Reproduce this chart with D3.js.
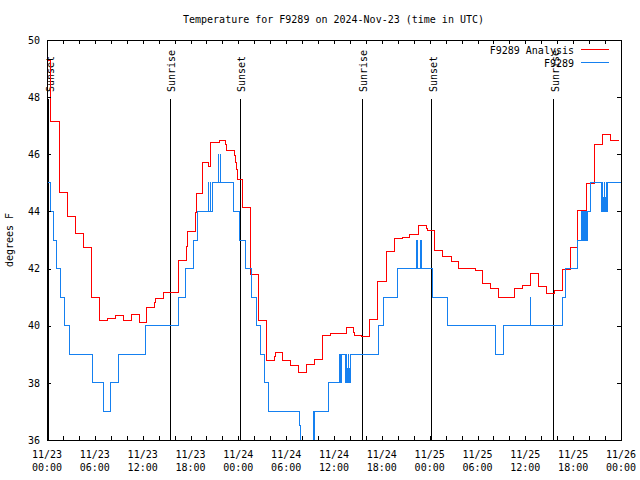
<!DOCTYPE html>
<html><head><meta charset="utf-8">
<script src="https://cdn.jsdelivr.net/npm/d3@7"></script>
<style>
body{margin:0;background:#fff}
svg{display:block}
text{font-family:"DejaVu Sans Mono","Liberation Mono",monospace;font-size:10px;fill:#000}
</style></head><body>
<svg id="c" width="640" height="480"></svg>
<script>
const title = "Temperature for F9289 on 2024-Nov-23 (time in UTC)";
const yLabel = "degrees F";
const seriesNames = ["F9289 Analysis", "F9289"];
const seriesColors = ["#ff0000", "#1580f0"];
const startUTC = Date.UTC(2024, 10, 23);
const spanHours = 72;
const yTicks = [36, 38, 40, 42, 44, 46, 48, 50];
// [hours since start, label]
const sunEvents = [[0.2, "Sunset"], [15.47, "Sunrise"], [24.22, "Sunset"], [39.53, "Sunrise"], [48.24, "Sunset"], [63.56, "Sunrise"]];
// step-after change points: [hours since start, degrees F]
const analysis = [
[0,49.3],[0.5,47.15],[1.55,44.67],[2.55,43.83],[3.55,43.22],[4.56,42.74],[5.6,40.99],[6.56,40.2],
[7.57,40.26],[8.57,40.36],[9.57,40.2],[10.58,40.4],[11.58,40.13],[12.5,40.63],[13.5,40.8],[13.58,40.96],
[14.6,41.1],[14.65,41.18],[16.45,41.72],[16.55,42.3],[17.52,42.77],[17.62,43.29],[18.6,43.96],[18.69,44.63],
[19.48,45.72],[20.24,45.57],[20.53,46.42],[21.62,46.47],[22.45,46.33],[22.52,46.15],[23.5,45.95],[23.6,45.72],
[23.72,45.47],[23.87,45.12],[24.54,44.14],[25.52,41.8],[26.52,40.19],[27.51,38.77],[28.5,38.92],[28.6,39.08],
[29.5,38.8],[30.5,38.61],[31.5,38.37],[32.5,38.65],[33.5,38.82],[34.5,39.65],[35.58,39.73],[37.55,39.95],
[38.5,39.78],[38.6,39.67],[39.5,39.63],[40.5,40.22],[41.5,41.54],[42.55,42.59],[43.55,43.04],[44.55,43.09],
[45.5,43.18],[46.55,43.51],[47.62,43.42],[47.75,43.35],[48.62,42.65],[49.63,42.44],[50.68,42.25],[51.64,42.02],
[53.69,41.95],[54.65,41.48],[55.69,41.31],[56.66,40.99],[58.62,41.31],[59.67,41.41],[60.63,41.83],[61.63,41.39],
[62.68,41.13],[63.6,41.23],[64.68,41.97],[65.62,42.74],[66.6,44.03],[67.65,44.98],[68.66,46.34],[69.62,46.69],
[70.67,46.48],[71.71,46.48]
];
const observed = [
[0,45.6],[0.08,45],[0.46,44],[0.85,43],[1.25,42],[1.74,41],[2.25,40],[2.87,39],[5.65,38],[7.07,37],[8.0,38],
[9.0,39],[12.4,40],[16.47,41],[17.43,42],[18.38,43],[18.85,44],
[20.3,45],[20.31,44],[20.5,45],[20.51,44],[20.72,45],
[21.5,46],[21.51,45],[21.74,46],[21.75,45],[23.37,44],[24.2,43],[24.95,42],
[25.62,41],[26.3,40],[26.78,39],[27.28,38],[27.78,37],[31.65,36.5],[31.75,35.5],[33.45,37],[33.47,35.5],[33.6,37],
[35.3,38],[36.75,39],[36.76,38],[36.85,39],[36.86,38],[36.95,39],
[37.45,38],[37.47,38.5],[37.49,38],[37.6,39],[37.62,38],[37.72,38.5],[37.74,38],[37.85,39],[37.87,38],
[37.97,38.5],[37.99,38],[38.1,39],
[41.58,40],[42.27,41],[43.95,42],
[46.33,43],[46.34,42],[46.45,42.5],[46.46,42],[46.5,43],[46.51,42],[46.83,43],[46.84,42],[46.96,43],[46.97,42],
[48.35,41],[50.28,40],[56.3,39],[57.2,40],[60.6,41],[60.62,40.5],[60.66,40],[64.65,41],[65.1,42],[66.55,43],
[67.1,44],[67.12,43],[67.22,43.5],[67.24,43],[67.35,44],[67.37,43],[67.47,43.5],[67.49,43],[67.6,44],[67.62,43],
[67.72,43.5],[67.74,43],[67.8,44],[68.15,45],
[69.6,44],[69.62,45],[69.64,44],[69.74,44.5],[69.76,44],[69.87,45],[69.89,44],[69.99,44.5],[70.01,44],
[70.12,45],[70.14,44],[70.24,44.5],[70.26,44],[70.3,45],[72,45]
];

const T = h => new Date(startUTC + h * 3600e3);
const L = 47, R = 621, Tp = 40, B = 440;
const svg = d3.select("#c");
const x = d3.scaleUtc().domain([T(0), T(spanHours)]).range([L, R]);
const y = d3.scaleLinear().domain([yTicks[0], yTicks[yTicks.length - 1]]).range([B, Tp]);

svg.append("defs").append("clipPath").attr("id", "clip")
  .append("rect").attr("x", L).attr("y", Tp).attr("width", R - L).attr("height", B - Tp);

// sun lines
const sun = svg.append("g");
sunEvents.forEach(([h, lab]) => {
  const sx = x(T(h));
  sun.append("line").attr("x1", sx).attr("x2", sx).attr("y1", 99).attr("y2", B)
    .attr("stroke", "#000").attr("stroke-width", 1).attr("shape-rendering", "crispEdges");
  sun.append("text").attr("transform", `translate(${sx + 5},92) rotate(-90)`).text(lab);
});

// series
const line = d3.line().x(d => x(T(d[0]))).y(d => y(d[1])).curve(d3.curveStepAfter);
[analysis, observed].forEach((data, i) => {
  svg.append("path").attr("clip-path", "url(#clip)").attr("d", line(data))
    .attr("fill", "none").attr("stroke", seriesColors[i]).attr("stroke-width", 1)
    .attr("shape-rendering", "crispEdges");
});

// axes (ticks inward, mirrored)
const styleAxis = g => g.selectAll("path,line").attr("stroke", "#000").attr("shape-rendering", "crispEdges");
svg.append("g").attr("transform", `translate(0,${B})`)
  .call(d3.axisBottom(x).ticks(d3.utcHour.every(2)).tickSize(-4).tickSizeOuter(0).tickFormat("")).call(styleAxis);
svg.append("g").attr("transform", `translate(0,${Tp})`)
  .call(d3.axisTop(x).ticks(d3.utcHour.every(2)).tickSize(-4).tickSizeOuter(0).tickFormat("")).call(styleAxis);
svg.append("g").attr("transform", `translate(${L},0)`)
  .call(d3.axisLeft(y).tickValues(yTicks).tickSize(-4).tickPadding(7).tickSizeOuter(0).tickFormat(d3.format("d"))).call(styleAxis);
svg.append("g").attr("transform", `translate(${R},0)`)
  .call(d3.axisRight(y).tickValues(yTicks).tickSize(-4).tickSizeOuter(0).tickFormat("")).call(styleAxis);

// x labels (two lines)
const majors = d3.utcHour.every(6).range(T(0), T(spanHours + 0.01));
const fd = d3.utcFormat("%m/%d"), ft = d3.utcFormat("%H:%M");
majors.forEach(d => {
  const t = svg.append("text").attr("text-anchor", "middle");
  t.append("tspan").attr("x", x(d)).attr("y", 458).text(fd(d));
  t.append("tspan").attr("x", x(d)).attr("y", 471).text(ft(d));
});

// title and y label
svg.append("text").attr("x", 333.5).attr("y", 23).attr("text-anchor", "middle").text(title);
svg.append("text").attr("transform", "translate(13,240) rotate(-90)").attr("text-anchor", "middle").text(yLabel);

// legend
seriesNames.forEach((n, i) => {
  const ly = 49.5 + i * 13;
  svg.append("text").attr("x", 574).attr("y", ly + 4.5).attr("text-anchor", "end").text(n);
  svg.append("line").attr("x1", 581).attr("x2", 609).attr("y1", ly).attr("y2", ly)
    .attr("stroke", seriesColors[i]).attr("stroke-width", 1).attr("shape-rendering", "crispEdges");
});
</script>
</body></html>
